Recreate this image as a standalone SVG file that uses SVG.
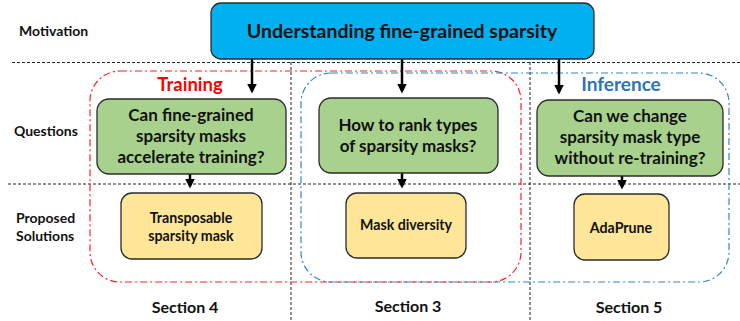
<svg xmlns="http://www.w3.org/2000/svg" width="740" height="321" viewBox="0 0 740 321">
<style>
text{font-family:Lato,"Open Sans","Liberation Sans",sans-serif;font-weight:bold;fill:#111;text-anchor:middle}
.lbl{font-size:14px;text-anchor:start}
.q{font-size:17px}
.s{font-size:14.2px}
.sec{font-size:16px}
.grid{stroke:#222;stroke-width:1;stroke-dasharray:3,2;fill:none}
.green{fill:#a9d18e;stroke:#2b2b2b;stroke-width:1.3}
.yellow{fill:#ffe699;stroke:#2b2b2b;stroke-width:1.3}
.conn{stroke:#000;stroke-width:2.5;fill:none;marker-end:url(#ah)}
</style>
<defs>
<marker id="ah" markerWidth="4" markerHeight="4" refX="3" refY="2" orient="auto" markerUnits="strokeWidth">
<path d="M0,0 L4,2 L0,4 z" fill="#000"/>
</marker>
</defs>
<rect width="740" height="321" fill="#fff"/>
<g id="grid">
<line class="grid" x1="12" y1="62.5" x2="740" y2="62.5"/>
<line class="grid" x1="8" y1="184" x2="740" y2="184"/>
<line class="grid" x1="291" y1="62" x2="291" y2="321"/>
<line class="grid" x1="530" y1="62" x2="530" y2="321"/>
</g>
<g id="training-group">
<rect x="90" y="71" width="431" height="211" rx="30" fill="none" stroke="#ff2020" stroke-width="1.2" stroke-dasharray="7,3,2,3"/>
<text x="190" y="91" style="font-size:18.5px;fill:#ff0000">Training</text>
</g>
<g id="inference-group">
<rect x="301" y="73" width="428" height="209" rx="30" fill="none" stroke="#2f86d0" stroke-width="1.2" stroke-dasharray="7,3,2,3"/>
<text x="621" y="91" style="font-size:19px;fill:#2e75b6">Inference</text>
</g>
<g id="labels">
<text class="lbl" x="19" y="36">Motivation</text>
<text class="lbl" x="14" y="136">Questions</text>
<text class="lbl" x="16" y="223">Proposed</text>
<text class="lbl" x="16" y="241">Solutions</text>
</g>
<g id="connectors">
<line class="conn" x1="252" y1="59" x2="252" y2="91"/>
<line class="conn" x1="402" y1="59" x2="402" y2="91"/>
<line class="conn" x1="559" y1="59" x2="559" y2="92"/>
<line class="conn" x1="190" y1="174" x2="190" y2="186"/>
<line class="conn" x1="402" y1="173" x2="402" y2="186"/>
<line class="conn" x1="622" y1="176" x2="622" y2="187"/>
</g>
<g id="motivation">
<rect x="211" y="3" width="383" height="56" rx="10" fill="#00b0f0" stroke="#2b2b2b" stroke-width="1.3"/>
<text x="402" y="38" style="font-size:19.5px">Understanding fine-grained sparsity</text>
</g>
<g id="q-training">
<rect class="green" x="97" y="99" width="189" height="75" rx="12"/>
<text class="q" x="191" y="121">Can fine-grained</text>
<text class="q" x="191" y="142">sparsity masks</text>
<text class="q" x="191" y="163">accelerate training?</text>
</g>
<g id="q-rank">
<rect class="green" x="319" y="98" width="179" height="75" rx="12"/>
<text class="q" x="408" y="131">How to rank types</text>
<text class="q" x="408" y="152">of sparsity masks?</text>
</g>
<g id="q-inference">
<rect class="green" x="537" y="100" width="186" height="76" rx="12"/>
<text class="q" x="630" y="122">Can we change</text>
<text class="q" x="630" y="143">sparsity mask type</text>
<text class="q" x="630" y="164">without re-training?</text>
</g>
<g id="s-transposable">
<rect class="yellow" x="121" y="193" width="141" height="66" rx="11"/>
<text class="s" x="191" y="223">Transposable</text>
<text class="s" x="191" y="241">sparsity mask</text>
</g>
<g id="s-diversity">
<rect class="yellow" x="346" y="193" width="120" height="65" rx="11"/>
<text class="s" x="406" y="230">Mask diversity</text>
</g>
<g id="s-adaprune">
<rect class="yellow" x="574" y="194" width="95" height="66" rx="11"/>
<text class="s" x="621" y="233">AdaPrune</text>
</g>
<g id="sections">
<text class="sec" x="185" y="313">Section 4</text>
<text class="sec" x="408" y="312">Section 3</text>
<text class="sec" x="629" y="313">Section 5</text>
</g>
</svg>
